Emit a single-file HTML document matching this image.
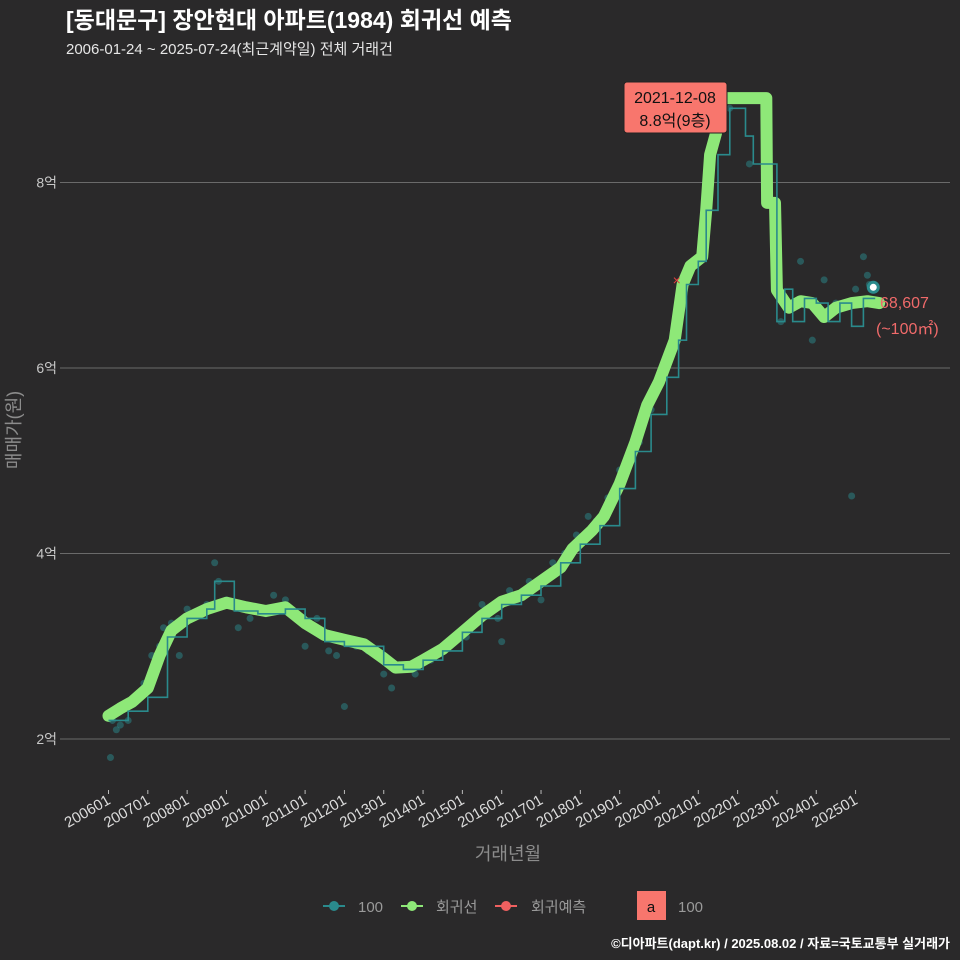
<!DOCTYPE html>
<html><head><meta charset="utf-8">
<style>
body{margin:0;background:#2a292a;}
svg{display:block;font-family:"Liberation Sans","Noto Sans CJK KR",sans-serif;}
</style></head>
<body>
<svg id="chart" width="960" height="960" viewBox="0 0 960 960" xmlns="http://www.w3.org/2000/svg">
<rect x="0" y="0" width="960" height="960" fill="#2a292a"/>
<text x="66" y="28" fill="#ffffff" font-size="23" font-weight="bold">[동대문구] 장안현대 아파트(1984) 회귀선 예측</text>
<text x="66" y="54" fill="#e6e6e6" font-size="15">2006-01-24 ~ 2025-07-24(최근계약일) 전체 거래건</text>
<g id="grid"></g>
<g id="xaxis"></g>
<g id="dots"></g>
<g id="lines"></g>
<text x="508" y="860" fill="#8c8c8c" font-size="18" text-anchor="middle">거래년월</text>
<text transform="translate(20,430) rotate(-90)" fill="#8c8c8c" font-size="18" text-anchor="middle">매매가(원)</text>
<g>
<g>
<line x1="323" x2="345" y1="906" y2="906" stroke="#2a8a8c" stroke-width="2"/><circle cx="334" cy="906" r="5" fill="#2a8a8c"/>
<text x="358" y="912" fill="#9a9a9a" font-size="15">100</text></g>
<g>
<line x1="401" x2="423" y1="906" y2="906" stroke="#8ee878" stroke-width="2"/><circle cx="412" cy="906" r="5" fill="#8ee878"/>
<text x="436" y="912" fill="#9a9a9a" font-size="15">회귀선</text></g>
<g>
<line x1="495" x2="517" y1="906" y2="906" stroke="#f06060" stroke-width="2"/><circle cx="506" cy="906" r="5" fill="#f06060"/>
<text x="531" y="912" fill="#9a9a9a" font-size="15">회귀예측</text></g>
<g>
<rect x="637" y="891" width="29" height="29" fill="#f8766d"/>
<text x="651" y="912" fill="#111" font-size="15" text-anchor="middle">a</text>
<text x="678" y="912" fill="#9a9a9a" font-size="15">100</text></g>
</g>
<text x="950" y="948" fill="#ffffff" font-size="13" font-weight="bold" text-anchor="end">©디아파트(dapt.kr) / 2025.08.02 / 자료=국토교통부 실거래가</text>
</svg>
<script>
var yTicks=[2,4,6,8];
var xTickLabels=['200601','200701','200801','200901','201001','201101','201201','201301','201401','201501','201601','201701','201801','201901','202001','202101','202201','202301','202401','202501'];
var regT=[2006.0,2006.3,2006.6,2007.0,2007.3,2007.6,2008.0,2008.5,2009.0,2009.5,2010.0,2010.5,2011.0,2011.5,2012.0,2012.5,2013.0,2013.3,2013.7,2014.0,2014.5,2015.0,2015.5,2016.0,2016.5,2017.0,2017.5,2017.8,2018.3,2018.6,2019.0,2019.4,2019.7,2020.0,2020.4,2020.6,2020.8,2021.1,2021.2,2021.3,2021.45,2021.55,2022.73,2022.75,2022.95,2023.0,2023.3,2023.6,2023.9,2024.2,2024.5,2024.9,2025.3,2025.6];
var regV=[2.25,2.33,2.4,2.55,2.9,3.17,3.3,3.4,3.47,3.42,3.38,3.42,3.25,3.12,3.07,3.02,2.87,2.77,2.78,2.85,2.97,3.15,3.33,3.48,3.55,3.7,3.85,4.05,4.25,4.4,4.75,5.2,5.6,5.85,6.3,6.9,7.1,7.2,7.7,8.3,8.53,8.91,8.91,7.78,7.78,6.84,6.65,6.72,6.7,6.55,6.65,6.7,6.72,6.7];
var tealT=[2006.0,2006.5,2007.0,2007.5,2008.0,2008.5,2008.7,2008.9,2009.2,2009.8,2010.5,2011.0,2011.5,2012.0,2012.5,2013.0,2013.5,2014.0,2014.5,2015.0,2015.5,2016.0,2016.5,2017.0,2017.5,2018.0,2018.5,2019.0,2019.4,2019.8,2020.2,2020.5,2020.7,2021.0,2021.2,2021.5,2021.8,2022.2,2022.4,2022.6,2023.0,2023.2,2023.4,2023.7,2024.0,2024.3,2024.6,2024.9,2025.2,2025.5];
var tealV=[2.2,2.3,2.45,3.1,3.3,3.4,3.7,3.7,3.38,3.35,3.4,3.3,3.05,3.0,3.0,2.8,2.75,2.85,2.95,3.15,3.3,3.45,3.55,3.65,3.9,4.1,4.3,4.7,5.1,5.5,5.9,6.3,6.9,7.15,7.7,8.3,8.8,8.5,8.2,8.2,6.5,6.85,6.5,6.75,6.7,6.5,6.7,6.45,6.75,6.75];
var dotT=[2006.05,2006.1,2006.2,2006.3,2006.35,2006.5,2006.7,2006.9,2007.1,2007.3,2007.4,2007.6,2007.8,2008.0,2008.3,2008.5,2008.7,2008.8,2009.0,2009.3,2009.6,2010.0,2010.2,2010.5,2011.0,2011.3,2011.6,2011.8,2012.0,2012.3,2012.6,2013.0,2013.2,2013.4,2013.8,2014.2,2014.5,2014.8,2015.1,2015.5,2015.9,2016.0,2016.2,2016.4,2016.7,2017.0,2017.3,2017.6,2017.9,2018.2,2018.4,2018.7,2019.0,2019.3,2019.5,2019.8,2020.1,2020.3,2020.6,2021.0,2021.2,2021.8,2022.3,2023.1,2023.6,2023.9,2024.2,2024.5,2024.9,2025.0,2025.2,2025.3,2025.35];
var dotV=[1.8,2.2,2.1,2.15,2.35,2.2,2.4,2.6,2.9,3.0,3.2,3.25,2.9,3.4,3.35,3.45,3.9,3.7,3.5,3.2,3.3,3.35,3.55,3.5,3.0,3.3,2.95,2.9,2.35,3.0,2.95,2.7,2.55,2.8,2.7,2.85,2.95,3.05,3.1,3.45,3.3,3.05,3.6,3.5,3.7,3.5,3.9,4.0,4.2,4.4,4.35,4.6,4.9,5.0,5.2,5.55,6.0,6.2,6.8,7.2,7.7,8.8,8.2,6.5,7.15,6.3,6.95,6.7,4.62,6.85,7.2,7.0,6.9];
var NS='http://www.w3.org/2000/svg';
function X(t){return 108.5+(t-2006)*39.32;}
function Y(v){return 739-(v-2)*92.75;}
function mk(tag,attrs,parent){var e=document.createElementNS(NS,tag);for(var k in attrs)e.setAttribute(k,attrs[k]);parent.appendChild(e);return e;}
var grid=document.getElementById('grid');
yTicks.forEach(function(v){
  var l=mk('line',{x1:60,x2:950,y1:Y(v),y2:Y(v),stroke:'#6a6a6a','stroke-width':1},grid);
  
  
  var t=mk('text',{x:57,y:Y(v)+5,fill:'#c8c8c8','font-size':14,'text-anchor':'end'},grid);
  t.textContent=v+'억';
  
  
});
var xa=document.getElementById('xaxis');
xTickLabels.forEach(function(s,i){
  var x=X(2006+i);
  var tk=mk('line',{x1:x,x2:x,y1:790,y2:794,stroke:'#bbb','stroke-width':1},xa);
  
  
  var t=mk('text',{x:x+3,y:803,fill:'#dcdcdc','font-size':15,'text-anchor':'end',transform:'rotate(-30 '+(x+3)+' 803)'},xa);
  t.textContent=s;
  
  
});
var dots=document.getElementById('dots');
dotT.forEach(function(t,i){
  var c=mk('circle',{cx:X(t),cy:Y(dotV[i]),r:3.5,fill:'#2a8a8c','fill-opacity':0.5},dots);
  
  
});
var lines=document.getElementById('lines');
var d='';regT.forEach(function(t,i){d+=(i?'L':'M')+X(t).toFixed(1)+','+Y(regV[i]).toFixed(1);});
var g=mk('path',{d:d,fill:'none',stroke:'#8ee878','stroke-width':12,'stroke-linejoin':'round','stroke-linecap':'round'},lines);


var d2='';tealT.forEach(function(t,i){var x=X(t).toFixed(1),y=Y(tealV[i]).toFixed(1);d2+=(i?'H'+x+'V'+y:'M'+x+','+y);});
var tl=mk('path',{d:d2,fill:'none',stroke:'#2a8a8c','stroke-width':1.6},lines);


var pm=mk('text',{x:X(2020.45),y:Y(6.95)+5,fill:'#e04040','font-size':14,'text-anchor':'middle'},lines);
pm.textContent='×';


var lastT=2025.45,lastV=6.87;
var ep=mk('circle',{cx:X(lastT),cy:Y(lastV),r:5,fill:'#ffffff',stroke:'#2a8a8c','stroke-width':3},lines);


var l1=mk('text',{x:880,y:308,fill:'#f06a6a','font-size':16},lines);l1.textContent='68,607';


var l2=mk('text',{x:876,y:334,fill:'#f06a6a','font-size':16},lines);l2.textContent='(~100㎡)';


var ann=mk('g',{},lines);


mk('rect',{x:624,y:82,width:103,height:51,rx:3,fill:'#f8766d',stroke:'#222','stroke-width':1},ann);
var a1=mk('text',{x:675,y:103,fill:'#111','font-size':16,'text-anchor':'middle'},ann);a1.textContent='2021-12-08';
var a2=mk('text',{x:675,y:126,fill:'#111','font-size':16,'text-anchor':'middle'},ann);a2.textContent='8.8억(9층)';
</script>
</body></html>
